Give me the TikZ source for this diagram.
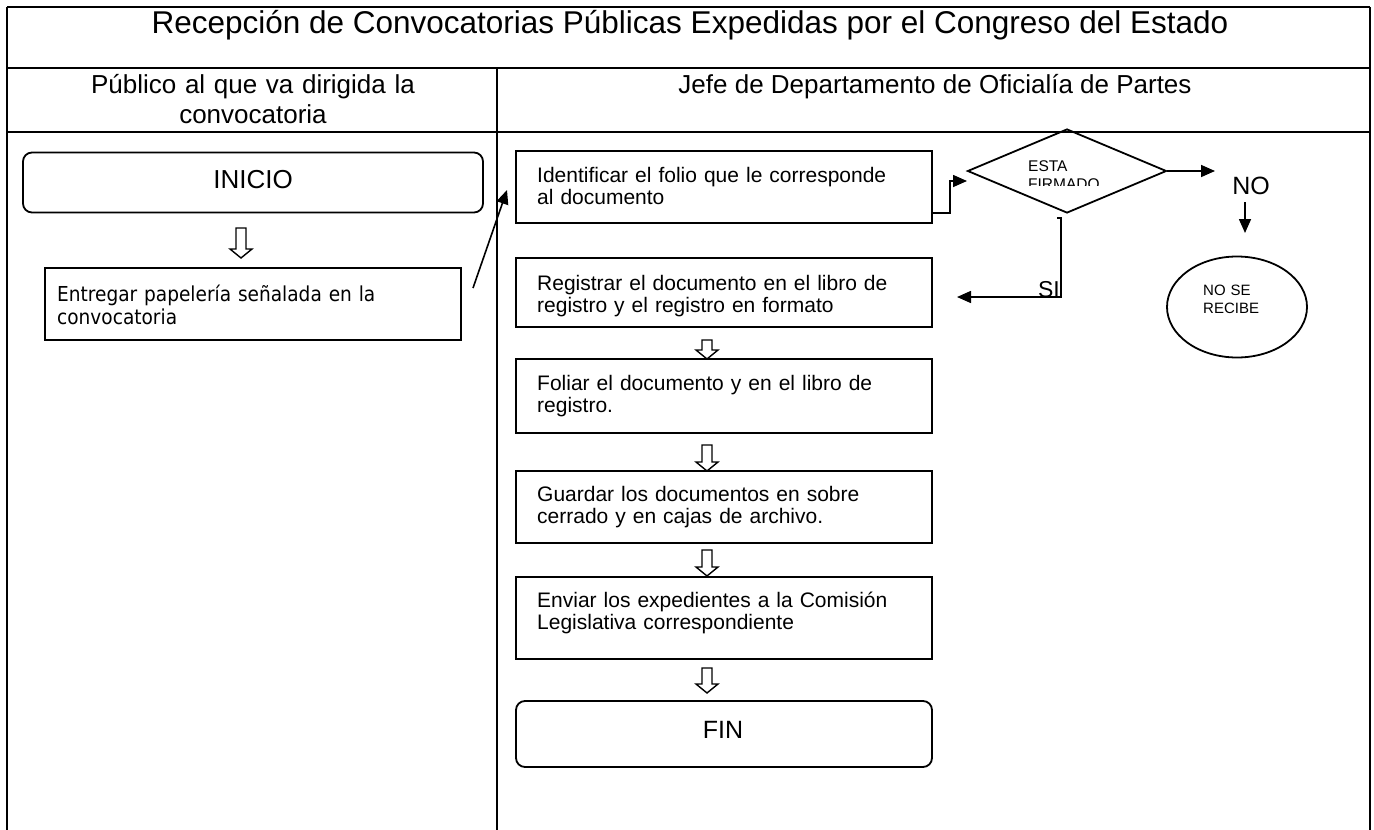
\documentclass[tikz,border=0pt]{standalone}
\usepackage{fontspec}
\setmainfont{Liberation Sans}
\newfontfamily\tahomaf[FakeStretch=0.9]{DejaVu Sans}
\usetikzlibrary{shapes.geometric,arrows.meta,calc}
\tikzset{
  tbl/.style={line width=1.3pt},
  box/.style={draw, line width=1.8pt, rectangle, inner sep=0pt, minimum width=416pt},
  btxt/.style={anchor=base west, inner sep=0pt, text width=390pt, align=left, font=\fontsize{21}{22.5}\selectfont},
  term/.style={draw, line width=1.8pt, rectangle, rounded corners=9pt, inner sep=0pt},
  con/.style={line width=1.6pt, -{Triangle[length=14pt,width=12pt]}},
  hollow/.pic={\draw[line width=1.4pt, fill=white, line join=miter] (-5,0) -- (-5,#1-9) -- (-11,#1-9) -- (0,#1) -- (11,#1-9) -- (5,#1-9) -- (5,0) -- cycle;}
}
\begin{document}
\begin{tikzpicture}[x=1pt,y=-1pt]
\useasboundingbox (0,0) rectangle (1374,830);
% table
\draw[tbl] (7,7) -- (1370,7);
\draw[tbl] (7,68) -- (1370,68);
\draw[tbl] (7,132) -- (1370,132);
\draw[tbl] (7,7) -- (7,830);
\draw[tbl] (1370,7) -- (1370,830);
\draw[tbl] (497,68) -- (497,830);
\node[anchor=base, inner sep=0pt, font=\fontsize{31.5}{33}\selectfont] (title) at (690,33) {Recepción de Convocatorias Públicas Expedidas por el Congreso del Estado};
\node[anchor=base, inner sep=0pt, text width=460pt, align=center, font=\fontsize{26}{30}\selectfont] (hl) at (253,93) {Público al que va dirigida la\\convocatoria};
\node[anchor=base, inner sep=0pt, font=\fontsize{26}{30}\selectfont] (hr) at (935,93) {Jefe de Departamento de Oficialía de Partes};
% left lane
\node[term, minimum width=460pt, minimum height=60pt] (inicio) at (253,182.5) {};
\node[anchor=base, inner sep=0pt, font=\fontsize{26}{28}\selectfont] (iniciot) at (253,188) {INICIO};
\node[box, minimum width=416pt, minimum height=72pt] (entregar) at (253,304) {};
\node[anchor=base west, inner sep=0pt, text width=400pt, align=left, font=\tahomaf\fontsize{20.6}{23}\selectfont] (entregart) at (57,301) {Entregar papelería señalada en la\\convocatoria};
\pic at (241,228) {hollow=30};
% right lane
\node[box, minimum height=72pt] (ident) at (724,187) {};
\node[btxt] (identt) at (537,182) {Identificar el folio que le corresponde\\al documento};
\node[box, minimum height=69pt] (regis) at (724,292.5) {};
\node[btxt] (regist) at (537,290) {Registrar el documento en el libro de\\registro y el registro en formato};
\node[box, minimum height=74pt] (foliar) at (724,396) {};
\node[btxt] (foliart) at (537,390) {Foliar el documento y en el libro de\\registro.};
\node[box, minimum height=72pt] (guardar) at (724,507) {};
\node[btxt] (guardart) at (537,501) {Guardar los documentos en sobre\\cerrado y en cajas de archivo.};
\node[box, minimum height=82pt] (enviar) at (724,618) {};
\node[btxt] (enviart) at (537,607) {Enviar los expedientes a la Comisión\\Legislativa correspondiente};
\node[term, minimum width=416pt, minimum height=66pt] (fin) at (724,734) {};
\node[anchor=base, inner sep=0pt, font=\fontsize{25}{27}\selectfont] (fint) at (723,738) {FIN};
\pic at (707,340) {hollow=19};
\pic at (707,445) {hollow=26};
\pic at (707,550) {hollow=26};
\pic at (707,668) {hollow=25};
% diagonal connector
\coordinate (dA) at (473,288);
\coordinate (dB) at (507,190);
\draw[con] (dA) -- (dB);
% decision
\node[draw, line width=1.8pt, shape=diamond, inner sep=0pt, minimum width=199pt, minimum height=84pt] (dec) at (1067,171) {};
\begin{scope}
\clip (1000,150) rectangle (1120,185.5);
\node[anchor=base west, align=left, text width=100pt, inner sep=0pt, font=\fontsize{15.5}{18}\selectfont] (esta) at (1028,171) {ESTA\\FIRMADO};
\end{scope}
\coordinate (c1) at (950,213);
\coordinate (c2) at (950,181);
\coordinate (c2b) at (953,181);
\coordinate (c3) at (967,181);
\draw[line width=1.6pt] (ident.east |- c1) -- (c1) -- (c2) -- (c2b);
\draw[con] (c2b) -- (c3);
% NO branch
\coordinate (noA) at (1215,171);
\draw[con] (dec.east) -- (noA);
\node[anchor=base, inner sep=0pt, font=\fontsize{25}{27}\selectfont] (no) at (1251,194) {NO};
\coordinate (nd1) at (1245,202);
\coordinate (nd2) at (1245,233);
\draw[con] (nd1) -- (nd2);
\node[draw, line width=1.8pt, ellipse, minimum width=140pt, minimum height=101pt, inner sep=0pt] (nosr) at (1237,307) {};
\node[anchor=base west, align=left, text width=80pt, inner sep=0pt, font=\fontsize{15}{18}\selectfont] (nosrt) at (1203,295) {NO SE\\RECIBE};
% SI branch
\coordinate (s0) at (1057,218);
\coordinate (s1) at (1061,218);
\coordinate (s2) at (1061,297);
\coordinate (s3) at (957,297);
\draw[con] (s0) -- (s1) -- (s2) -- (s3);
\node[anchor=base east, inner sep=0pt, font=\fontsize{23}{25}\selectfont] (si) at (1060,297) {SI};
\end{tikzpicture}
\end{document}
